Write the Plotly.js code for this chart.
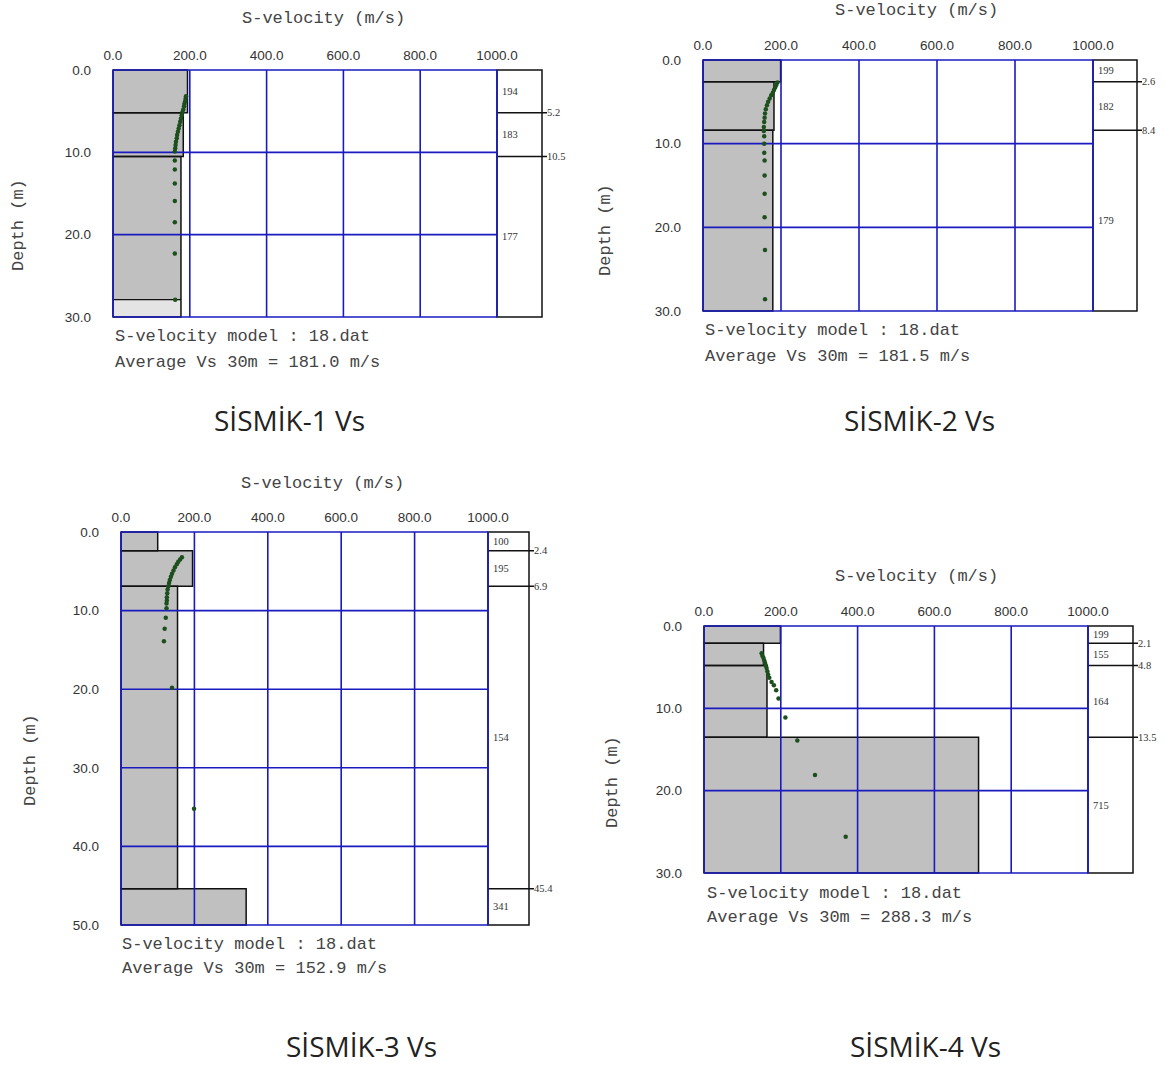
<!DOCTYPE html>
<html><head><meta charset="utf-8">
<script src="https://cdn.plot.ly/plotly-3.0.1.min.js"></script>
<style>html,body{margin:0;padding:0;background:#fff}#chart{width:1166px;height:1066px}</style>
</head><body><div id="chart"></div>
<script>
// ---------------- DATA ----------------
const velocityTicks = [0, 200, 400, 600, 800, 1000];
const depthTicks30 = [0, 10, 20, 30];
const depthTicks50 = [0, 10, 20, 30, 40, 50];

// SİSMİK-1
const layerVs1 = [194, 183, 177];
const layerBottom1 = [5.2, 10.5, 30];
const halfSpaceTop1 = 27.9;
const curveDepth1 = [3.2, 3.5, 3.8, 4.1, 4.4, 4.8, 5.1, 5.5, 5.9, 6.3, 6.7, 7.1, 7.5, 7.9, 8.3, 8.7, 9.1, 9.5, 9.9, 11.0, 12.1, 13.8, 15.9, 18.5, 22.3, 27.9];
const curveVs1    = [190, 189, 188, 186, 185, 183, 181, 179, 177, 175, 173, 171, 169, 167, 166, 164, 163, 162, 161, 161, 161, 161, 161, 161, 161, 162];

// SİSMİK-2
const layerVs2 = [199, 182, 179];
const layerBottom2 = [2.6, 8.4, 30];
const curveDepth2 = [2.7, 3.0, 3.3, 3.6, 3.9, 4.2, 4.6, 5.0, 5.4, 5.9, 6.4, 6.9, 7.4, 8.0, 8.5, 9.1, 10.0, 11.1, 12.0, 13.8, 16.0, 18.8, 22.7, 28.6];
const curveVs2    = [191, 188, 185, 182, 179, 175, 171, 167, 164, 161, 159, 158, 157, 156, 156, 157, 157, 157, 158, 158, 158, 158, 159, 159];

// SİSMİK-3
const layerVs3 = [100, 195, 154, 341];
const layerBottom3 = [2.4, 6.9, 45.4, 50];
const curveDepth3 = [3.2, 3.5, 3.8, 4.1, 4.5, 4.9, 5.3, 5.7, 6.1, 6.5, 6.9, 7.3, 7.8, 8.3, 8.7, 9.1, 9.7, 10.9, 12.3, 13.9, 19.8, 35.2];
const curveVs3    = [166, 161, 156, 152, 147, 143, 139, 136, 133, 131, 129, 127, 126, 125, 125, 124, 124, 122, 119, 117, 139, 199];

// SİSMİK-4
const layerVs4 = [199, 155, 164, 715];
const layerBottom4 = [2.1, 4.8, 13.5, 30];
const curveDepth4 = [3.3, 3.6, 3.9, 4.2, 4.5, 4.8, 5.1, 5.5, 5.9, 6.3, 6.8, 7.2, 7.8, 8.8, 11.1, 13.9, 18.1, 25.6];
const curveVs4    = [150, 152, 155, 157, 159, 161, 163, 165, 167, 170, 176, 182, 188, 194, 212, 243, 289, 369];

const averageVs30 = [181.0, 181.5, 152.9, 288.3];
const modelName = '18.dat';
const captions = ['SİSMİK-1 Vs', 'SİSMİK-2 Vs', 'SİSMİK-3 Vs', 'SİSMİK-4 Vs'];
const xTitle = 'S-velocity (m/s)';
const yTitle = 'Depth (m)';

// ---------------- LAYOUT ----------------
const W = 1166, H = 1066;
const panels = [
  {vs: layerVs1, bot: layerBottom1, cd: curveDepth1, cv: curveVs1, yt: depthTicks30, half: halfSpaceTop1,
   g: {x0: 113, x1: 497, box: 542, top: 70, bottom: 317, title: [323, 19], text: [113, 337, 362], dt: [18, 225], cap: [289, 420]}},
  {vs: layerVs2, bot: layerBottom2, cd: curveDepth2, cv: curveVs2, yt: depthTicks30,
   g: {x0: 703, x1: 1093, box: 1137, top: 60, bottom: 311, title: [916, 10], text: [703, 330, 356], dt: [606, 230], cap: [919, 420]}},
  {vs: layerVs3, bot: layerBottom3, cd: curveDepth3, cv: curveVs3, yt: depthTicks50,
   g: {x0: 121, x1: 488, box: 529, top: 532, bottom: 925, title: [322, 483], text: [120, 944, 968], dt: [30, 760], cap: [361, 1046]}},
  {vs: layerVs4, bot: layerBottom4, cd: curveDepth4, cv: curveVs4, yt: depthTicks30,
   g: {x0: 704, x1: 1088, box: 1133, top: 626, bottom: 873, title: [916, 576], text: [705, 893, 917], dt: [612, 782], cap: [925, 1046]}}
];

const GRID = '#1a1ac0', BLACK = '#111111', GRAY = '#c0c0c0';
const monoFont = {family: 'Liberation Mono, monospace', size: 17, color: '#444'};
const smallFont = {family: 'Liberation Serif, serif', size: 10.5, color: '#333'};
const tickFont = {family: 'Liberation Sans, sans-serif', size: 13.5, color: '#333'};

const traces = [], shapes = [], annotations = [];
const layout = {
  width: W, height: H, margin: {l: 0, r: 0, t: 0, b: 0},
  paper_bgcolor: '#fff', plot_bgcolor: 'rgba(0,0,0,0)', showlegend: false,
  shapes: shapes, annotations: annotations
};

panels.forEach((p, i) => {
  const k = i === 0 ? '' : String(i + 1);
  const xa = 'x' + k, ya = 'y' + k;
  const g = p.g;
  const D = p.bot[p.bot.length - 1];
  const s = (g.x1 - g.x0) / 1000;
  const sy = (g.bottom - g.top) / D;
  const padL = 4, padT = 4, padB = 4, padR = 24;
  const boxX = (g.box - g.x0) / s;
  const ext = 5 / s;

  layout['xaxis' + k] = {
    domain: [(g.x0 - padL) / W, (g.box + padR) / W],
    range: [-padL / s, (g.box + padR - g.x0) / s],
    side: 'top', anchor: ya, tickmode: 'array', tickvals: velocityTicks, tickformat: '.1f',
    showgrid: false, zeroline: false, showline: false, ticks: '', ticklabelstandoff: 2,
    tickfont: tickFont, fixedrange: true
  };
  layout['yaxis' + k] = {
    domain: [1 - (g.bottom + padB) / H, 1 - (g.top - padT) / H],
    range: [D + padB / sy, -padT / sy],
    anchor: xa, tickmode: 'array', tickvals: p.yt, tickformat: '.1f',
    showgrid: false, zeroline: false, showline: false, ticks: '', ticklabelstandoff: 17,
    tickfont: tickFont, fixedrange: true
  };

  const base = {xref: xa, yref: ya, layer: 'below'};
  // layer fills
  p.vs.forEach((v, j) => {
    const t = j === 0 ? 0 : p.bot[j - 1];
    shapes.push(Object.assign({type: 'rect', x0: 0, x1: v, y0: t, y1: p.bot[j], fillcolor: GRAY, line: {width: 0}}, base));
  });
  if (p.half !== undefined) {
    const v = p.vs[p.vs.length - 1];
    shapes.push(Object.assign({type: 'rect', x0: 0, x1: v, y0: p.half, y1: D, fillcolor: '#e4e4e4', line: {width: 0}}, base));
    shapes.push(Object.assign({type: 'line', x0: 0, x1: v, y0: p.half, y1: p.half, line: {color: BLACK, width: 1.2}}, base));
  }
  // layer outlines
  p.vs.forEach((v, j) => {
    const t = j === 0 ? 0 : p.bot[j - 1];
    shapes.push(Object.assign({type: 'rect', x0: 0, x1: v, y0: t, y1: p.bot[j], fillcolor: 'rgba(0,0,0,0)', line: {color: BLACK, width: 1.5}}, base));
  });
  // side box
  shapes.push(Object.assign({type: 'rect', x0: 1000, x1: boxX, y0: 0, y1: D, fillcolor: '#fff', line: {color: BLACK, width: 1.5}}, base));
  p.bot.slice(0, -1).forEach(d => {
    shapes.push(Object.assign({type: 'line', x0: 1000, x1: boxX + ext, y0: d, y1: d, line: {color: BLACK, width: 1.5}}, base));
  });
  // blue grid + frame
  velocityTicks.forEach(v => {
    shapes.push(Object.assign({type: 'line', x0: v, x1: v, y0: 0, y1: D, line: {color: GRID, width: 1.6}}, base));
  });
  p.yt.forEach(d => {
    shapes.push(Object.assign({type: 'line', x0: 0, x1: 1000, y0: d, y1: d, line: {color: GRID, width: 1.6}}, base));
  });

  // dispersion points
  traces.push({
    type: 'scatter', mode: 'markers', x: p.cv, y: p.cd, xaxis: xa, yaxis: ya,
    marker: {size: 4.5, color: '#1d4f1d'}, hoverinfo: 'x+y', cliponaxis: true
  });

  // velocity labels in side box
  p.vs.forEach((v, j) => {
    const t = j === 0 ? 0 : p.bot[j - 1];
    annotations.push({xref: xa, yref: ya, x: 1000, y: (t + p.bot[j]) / 2, text: String(v),
      xanchor: 'left', yanchor: 'middle', xshift: 3, showarrow: false, font: smallFont});
  });
  // depth boundary labels
  p.bot.slice(0, -1).forEach(d => {
    annotations.push({xref: xa, yref: ya, x: boxX + ext, y: d, text: String(d),
      xanchor: 'left', yanchor: 'middle', xshift: -2, showarrow: false, font: smallFont});
  });

  // titles and texts (paper)
  annotations.push({xref: 'paper', yref: 'paper', x: g.title[0] / W, y: 1 - g.title[1] / H, text: xTitle,
    xanchor: 'center', yanchor: 'middle', showarrow: false, font: monoFont});
  annotations.push({xref: 'paper', yref: 'paper', x: g.dt[0] / W, y: 1 - g.dt[1] / H, text: yTitle, textangle: -90,
    xanchor: 'center', yanchor: 'middle', showarrow: false, font: monoFont});
  annotations.push({xref: 'paper', yref: 'paper', x: g.text[0] / W, y: 1 - g.text[1] / H,
    text: 'S-velocity model : ' + modelName, xanchor: 'left', yanchor: 'middle', showarrow: false, font: monoFont});
  annotations.push({xref: 'paper', yref: 'paper', x: g.text[0] / W, y: 1 - g.text[2] / H,
    text: 'Average Vs 30m = ' + averageVs30[i].toFixed(1) + ' m/s', xanchor: 'left', yanchor: 'middle', showarrow: false, font: monoFont});
  annotations.push({xref: 'paper', yref: 'paper', x: g.cap[0] / W, y: 1 - g.cap[1] / H, text: captions[i],
    xanchor: 'center', yanchor: 'middle', showarrow: false,
    font: {family: 'Open Sans, Noto Sans, sans-serif', size: 28, color: '#222'}});
});

Plotly.newPlot('chart', traces, layout, {staticPlot: true, displayModeBar: false});
</script>
</body></html>
